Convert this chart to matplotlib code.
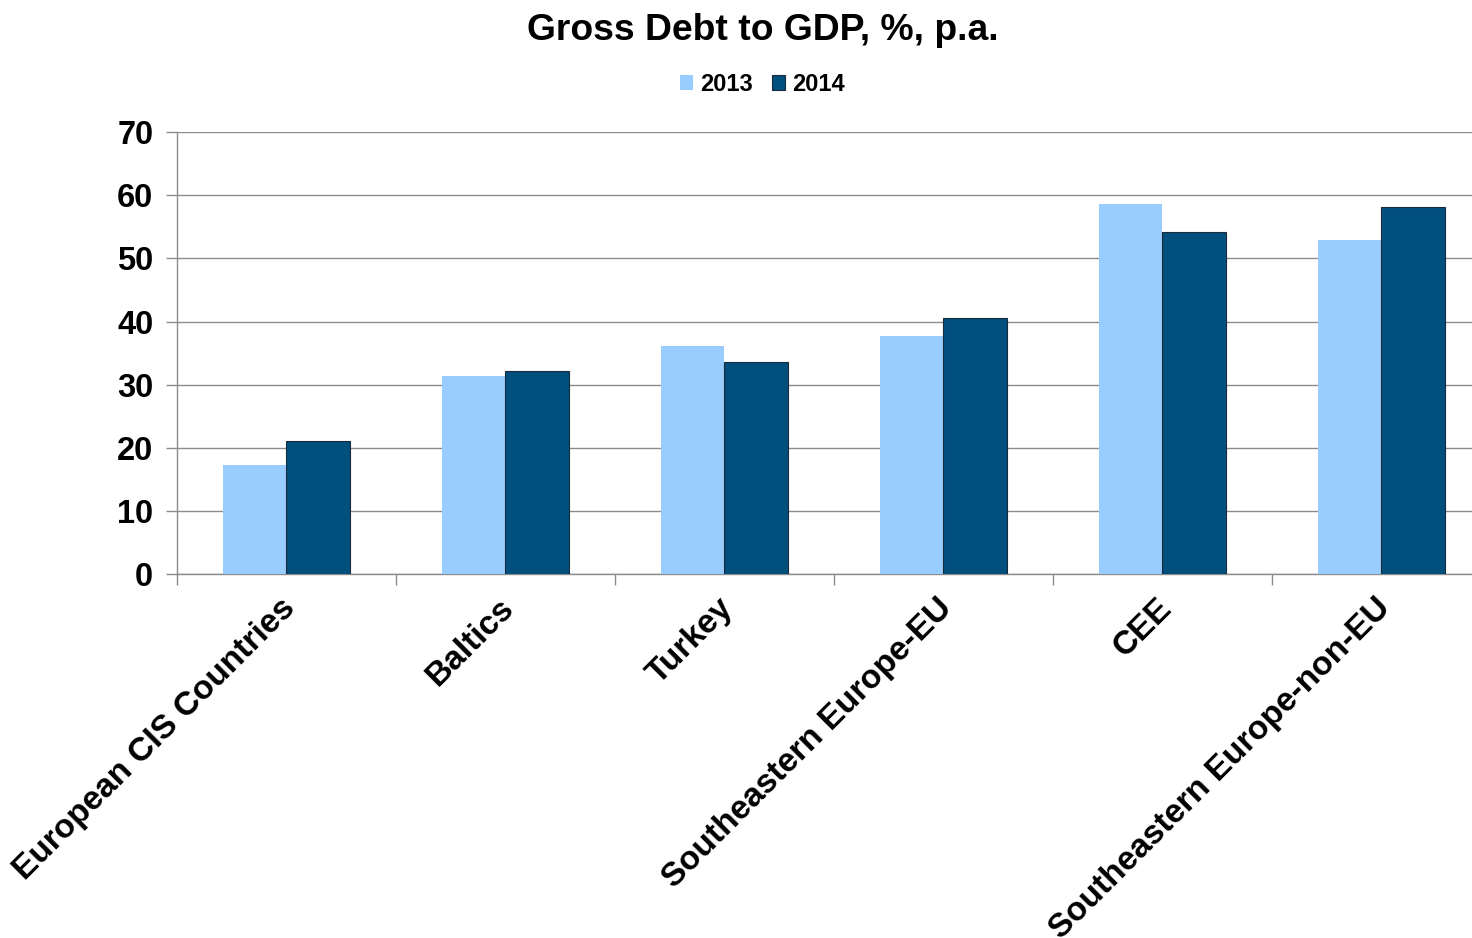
import matplotlib
matplotlib.use("Agg")
import matplotlib.pyplot as plt
import numpy as np

plt.rcParams["font.family"] = ["Liberation Sans", "DejaVu Sans"]
plt.rcParams["font.weight"] = "bold"

regions = ["European CIS Countries", "Baltics", "Turkey",
           "Southeastern Europe-EU", "CEE", "Southeastern Europe-non-EU"]
years = ["2013", "2014"]
debt_2013 = [17.3, 31.4, 36.1, 37.7, 58.6, 52.9]
debt_2014 = [21.1, 32.2, 33.6, 40.5, 54.2, 58.1]

light = "#99CCFF"
dark = "#004F7C"

fig = plt.figure(figsize=(14.72, 9.38), dpi=100)
# plot area runs a little past the right edge of the figure
ax = fig.add_axes([0.1202, 0.388, 0.8927, 0.471])

x = np.arange(len(regions))
w = 0.288
ax.bar(x - w / 2, debt_2013, w, color=light, label=years[0], zorder=3)
ax.bar(x + w / 2, debt_2014, w, color=dark, edgecolor="#1a2a3a", linewidth=0.8,
       label=years[1], zorder=3)

ax.set_xlim(-0.5, len(regions) - 0.5)
ax.set_ylim(0, 70)
ax.set_yticks(range(0, 71, 10))
ax.yaxis.grid(True, color="#8c8c8c", linewidth=1.0, zorder=0)
ax.tick_params(axis="y", labelsize=23.5, length=8, color="#8c8c8c", width=1, pad=9)

# category boundary ticks under the x axis
ax.set_xticks(np.arange(-0.5, len(regions), 1.0))
ax.set_xticklabels([])
ax.tick_params(axis="x", length=8, color="#8c8c8c", width=1)
for i, name in enumerate(regions):
    ax.text(i + 0.02, -4.6, name, rotation=45, rotation_mode="anchor",
            ha="right", va="center", fontsize=24, fontweight="bold")

for s in ["top", "right"]:
    ax.spines[s].set_visible(False)
for s in ["left", "bottom"]:
    ax.spines[s].set_color("#8c8c8c")
    ax.spines[s].set_linewidth(1.0)

fig.text(0.518, 0.967, "Gross Debt to GDP, %, p.a.", ha="center", va="center",
         fontsize=26.8, fontweight="bold")

fig.legend(loc="center", bbox_to_anchor=(0.518, 0.91), ncol=2, frameon=False,
           handlelength=0.55, handleheight=0.55, handletextpad=0.3,
           columnspacing=0.8, prop={"weight": "bold", "size": 17})

fig.savefig("out.png", dpi=100)
